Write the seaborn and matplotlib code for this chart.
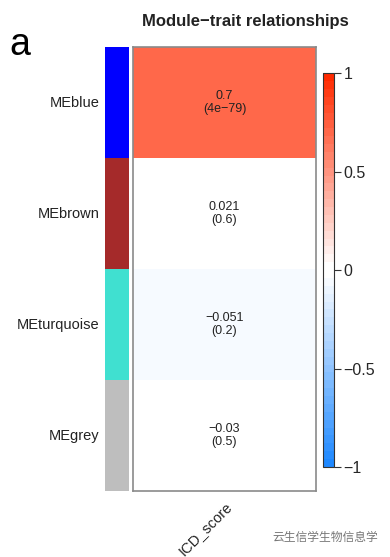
import numpy as np
import pandas as pd
import matplotlib
matplotlib.use("Agg")
import matplotlib.pyplot as plt
import seaborn as sns
from matplotlib.colors import ListedColormap, to_rgb

# module eigengenes vs trait
modules = ["MEblue", "MEbrown", "MEturquoise", "MEgrey"]
module_colors = ["#0000FF", "#A52A2A", "#40E0D0", "#BEBEBE"]
traits = ["ICD_score"]
cor_values = [0.7, 0.021, -0.051, -0.03]
p_values = [4e-79, 0.6, 0.2, 0.5]

sns.set_theme(style="white")
plt.rcParams["font.family"] = ["Liberation Sans", "DejaVu Sans"]

cor_df = pd.DataFrame({traits[0]: cor_values}, index=modules)
labels = np.array([[f"{c}\n({p:.1g})".replace("-", "\u2212")]
                   for c, p in zip(cor_values, p_values)])

# WGCNA style blueWhiteRed(50): 25 steps blue->white, 25 steps white->red
blue, white, red = map(np.array, map(to_rgb, ["#1E88FF", "#FFFFFF", "#FF2A00"]))
half = 25
lower = [blue + (white - blue) * t for t in np.linspace(0, 1, half)]
upper = [white + (red - white) * t for t in np.linspace(0, 1, half)]
blue_white_red = ListedColormap(lower + upper)

fig = plt.figure(figsize=(3.9, 5.57), dpi=100)
ax_strip = fig.add_axes([0.269, 0.1185, 0.0615, 0.797])
ax_heat = fig.add_axes([0.341, 0.1185, 0.469, 0.797])
ax_cbar = fig.add_axes([0.828, 0.1616, 0.028, 0.707])

# colour strip for module names
strip_df = pd.DataFrame({"m": range(len(modules))}, index=modules)
sns.heatmap(strip_df, ax=ax_strip, cmap=ListedColormap(module_colors),
            cbar=False, xticklabels=False, yticklabels=True)
ax_strip.set_ylabel("")
ax_strip.tick_params(axis="y", length=0, labelsize=10.5, pad=4, rotation=0)
for lbl in ax_strip.get_yticklabels():
    lbl.set_color("#222222")

# correlation heatmap
sns.heatmap(cor_df, ax=ax_heat, cmap=blue_white_red, vmin=-1, vmax=1,
            annot=labels, fmt="", annot_kws={"fontsize": 9, "color": "#222222"},
            cbar_ax=ax_cbar, yticklabels=False, linewidths=0)
ax_heat.set_xticklabels(ax_heat.get_xticklabels(), rotation=45, ha="right",
                        rotation_mode="anchor", fontsize=10.5, color="#222222")
ax_heat.tick_params(axis="x", length=0, pad=6)
for s in ax_heat.spines.values():
    s.set_visible(True)
    s.set_color("#8a8a8a")
    s.set_linewidth(1.2)

# title is centred over the whole plot area (heatmap + legend), as in R
fig.text(0.63, 0.962, "Module\u2212trait relationships", fontsize=12,
         fontweight="bold", color="#222222", ha="center", va="center")

# colour bar
cbar = ax_heat.collections[0].colorbar
cbar.set_ticks([-1, -0.5, 0, 0.5, 1])
cbar.set_ticklabels(["\u22121", "\u22120.5", "0", "0.5", "1"])
cbar.ax.tick_params(labelsize=11.5, length=5, width=0.8, color="#333333",
                    direction="out", pad=2)
cbar.outline.set_visible(True)
cbar.outline.set_edgecolor("#333333")
cbar.outline.set_linewidth(0.8)

fig.text(0.025, 0.92, "a", fontsize=27, color="black", va="center", ha="left")
fig.text(0.97, 0.035, "云生信学生物信息学", fontsize=8.5, color="#777777",
         ha="right", va="center",
         family=["Noto Sans CJK SC", "DejaVu Sans"])

fig.savefig("out.png", dpi=100)
